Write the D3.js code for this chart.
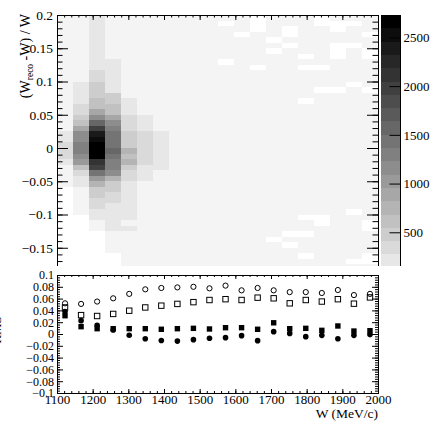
<!DOCTYPE html>
<html>
<head>
<meta charset="utf-8">
<script src="https://cdn.jsdelivr.net/npm/d3@7"></script>
<style>
  body { margin: 0; background: #fff; }
  svg { display: block; }
  svg text { font-family: "Liberation Serif", "Times New Roman", serif; fill: #000; }
</style>
</head>
<body>
<div id="chart"></div>
<script>
// W bins (MeV/c), 45 MeV wide
const wBinCenters = [
  1122.5, 1167.5, 1212.5, 1257.5, 1302.5, 1347.5, 1392.5, 1437.5, 1482.5, 1527.5,
  1572.5, 1617.5, 1662.5, 1707.5, 1752.5, 1797.5, 1842.5, 1887.5, 1932.5, 1977.5,
];
const binWidth = 45;
const xTicks = [1100, 1200, 1300, 1400, 1500, 1600, 1700, 1800, 1900, 2000];

// 2D histogram, counts per column, rows from +0.2 down to -0.2 (48 rows)
const col1122 = [
  60, 60, 60, 60, 60, 60, 60, 60, 60, 60, 60, 60, 60, 60, 60, 60, 60, 60, 60, 60, 60,
  200, 200, 340, 340, 340, 200, 60, 60, 60, 60,
  0, 0, 0, 0, 0, 0, 0, 0, 0, 0, 0, 0, 0, 0, 0, 0, 0,
];
const col1167 = [
  60, 60, 60, 60, 60, 60, 60, 60, 60, 60, 60, 60,
  200, 200, 200, 200, 340, 340, 480, 610, 880, 1150, 1150, 1290, 1290, 1150, 1020, 610,
  340, 200, 200, 60, 60, 60, 60, 60,
  0, 0, 0, 0, 0, 0, 0, 0, 0, 0, 0, 0,
];
const col1212 = [
  200, 200, 200, 200, 200, 200, 200, 200, 200, 200, 340, 340, 480, 480, 480, 610, 610,
  880, 1150, 1560, 1970, 2380, 2520, 2680, 2720, 2680, 2110, 1970, 1430, 1020, 750,
  480, 480, 340, 340, 200, 200, 60, 60,
  0, 0, 0, 0, 0, 0, 0, 0, 0,
];
const col1257 = [
  60, 60, 60, 60, 60, 60, 60, 60, 200, 200, 200, 200, 200, 200,
  480, 480, 610, 610, 880, 1150, 1290, 1430, 1430, 1430, 1560, 1430, 1290, 1290,
  1150, 750, 480, 480, 340, 340, 200, 200, 200, 200, 200, 60, 60, 60, 60,
  0, 0, 0, 0, 0,
];
const col1302 = [
  60, 60, 60, 60, 60, 60, 60, 60, 60, 60, 60, 60, 60, 60, 60,
  200, 200, 200, 340, 340, 340, 480, 480, 480, 750, 610, 750, 480, 340, 340,
  200, 200, 200, 200, 200, 200, 200, 60, 200,
  60, 60, 60, 60, 60, 60, 60, 60, 60,
];
const col1347 = [
  60, 60, 60, 60, 60, 60, 60, 60, 60, 60, 60, 60, 60, 60, 60, 60, 60, 60,
  200, 200, 200, 340, 340, 340, 340, 340, 340, 200, 200, 200,
  60, 60, 60, 60, 60, 60, 60, 60, 60, 60, 60, 60, 60, 60, 60, 60, 60, 60,
];
const col1392 = [
  60, 60, 60, 60, 60, 60, 60, 60, 60, 60, 60, 60, 60, 60, 60, 60, 60, 60, 60, 60, 60,
  200, 200, 200, 200, 200, 200, 200,
  60, 60, 60, 60, 60, 60, 60, 60, 60, 60, 60, 60, 60, 60, 60, 60, 60, 60, 60, 60,
];
const coreColumns = [col1122, col1167, col1212, col1257, col1302, col1347, col1392];
const restCount = 60; // all other W bins: low counts
// [W bin index, row] of empty bins in the low-count area
const emptyCells = [
  [10, 1], [10, 8], [11, 3], [12, 0], [12, 1], [12, 2], [12, 9],
  [13, 4], [13, 6], [13, 40], [14, 2], [14, 3], [14, 5], [14, 39], [14, 41],
  [15, 7], [15, 9], [15, 15], [15, 36], [15, 39], [15, 43],
  [16, 0], [16, 1], [16, 9], [16, 13], [16, 36], [16, 37],
  [17, 1], [17, 2], [17, 5], [17, 6], [17, 7], [17, 13],
  [18, 1], [18, 5], [18, 12], [18, 35], [18, 44],
  [19, 3], [19, 6], [19, 7], [19, 13], [19, 37], [19, 38], [19, 43], [19, 44],
];
const zMax = 2730;
const colorbarTicks = [500, 1000, 1500, 2000, 2500];
const topYTicks = [-0.15, -0.1, -0.05, 0, 0.05, 0.1, 0.15, 0.2];

// lower pad: four series vs W
const openCircles = [
  0.052, 0.051, 0.055, 0.0605, 0.068, 0.0757, 0.078, 0.079, 0.08, 0.0774,
  0.082, 0.074, 0.078, 0.074, 0.071, 0.071, 0.0695, 0.0746, 0.066, 0.068,
];
const openSquares = [
  0.045, 0.032, 0.0305, 0.034, 0.0395, 0.045, 0.048, 0.051, 0.054, 0.0576,
  0.059, 0.0576, 0.0616, 0.0605, 0.052, 0.0576, 0.055, 0.059, 0.0514, 0.062,
];
const filledSquares = [
  0.031, 0.0124, 0.009, 0.009, 0.009, 0.009, 0.008, 0.009, 0.0096, 0.0085,
  0.0107, 0.0107, 0.008, 0.019, 0.009, 0.0096, 0.0062, 0.0136, 0.005, 0.0056,
];
const filledCircles = [
  0.038, 0.0226, 0.0147, 0.0068, -0.002, -0.008, -0.011, -0.012, -0.0096, -0.0073,
  -0.0062, -0.0028, -0.0113, 0.004, 0.001, -0.0045, -0.0023, -0.008, -0.0023, -0.001,
];
const bottomYTicks = [-0.1, -0.08, -0.06, -0.04, -0.02, 0, 0.02, 0.04, 0.06, 0.08, 0.1];

const W = 436, H = 423;
const left = 57, right = 378;
const topPad = { top: 15, bottom: 281 };
const botPad = { top: 275, bottom: 393, start: 266 };

const fmt = d3.format("~g");

const styleAxis = (g, size) => {
  g.attr("font-family", null).attr("font-size", size);
  g.select(".domain").remove();
  g.selectAll("line").attr("stroke", "#000");
  g.selectAll("text").attr("fill", "#000");
};

const svg = d3
  .select("#chart")
  .append("svg")
  .attr("width", W)
  .attr("height", H);

const x = d3.scaleLinear().domain([1100, 2000]).range([left, right]);
const yTop = d3.scaleLinear().domain([-0.2, 0.2]).range([topPad.bottom, topPad.top]);
const yBot = d3.scaleLinear().domain([-0.1, 0.1]).range([botPad.bottom, botPad.top]);
const zY = d3.scaleLinear().domain([0, zMax]).range([topPad.bottom, topPad.top]);

const grays = d3.range(20).map((i) => {
  const v = Math.round(244 * (1 - i / 19));
  return d3.rgb(v, v, v).formatHex();
});
const zColor = d3.scaleQuantize().domain([0, zMax]).range(grays);

// ---- top pad: 2D histogram
const rowEdge = (k) => 0.2 - k / 120;
const emptySet = new Set(emptyCells.map((d) => d[0] + ":" + d[1]));
const cells = [];
wBinCenters.forEach((w, i) => {
  for (let k = 0; k < 48; k++) {
    let count = i < coreColumns.length ? coreColumns[i][k] : restCount;
    if (emptySet.has(i + ":" + k)) count = 0;
    if (count > 0) cells.push({ w, k, count });
  }
});

svg
  .append("g")
  .attr("shape-rendering", "crispEdges")
  .selectAll("rect")
  .data(cells)
  .enter()
  .append("rect")
  .attr("x", (d) => x(d.w - binWidth / 2))
  .attr("width", (d) => x(d.w + binWidth / 2) - x(d.w - binWidth / 2))
  .attr("y", (d) => yTop(rowEdge(d.k)))
  .attr("height", (d) => yTop(rowEdge(d.k + 1)) - yTop(rowEdge(d.k)))
  .attr("fill", (d) => zColor(d.count));

// colour bar
const bands = d3.range(20).map((i) => [(i * zMax) / 20, ((i + 1) * zMax) / 20]);
svg
  .append("g")
  .attr("shape-rendering", "crispEdges")
  .selectAll("rect")
  .data(bands)
  .enter()
  .append("rect")
  .attr("x", 381)
  .attr("width", 19)
  .attr("y", (d) => zY(d[1]))
  .attr("height", (d) => zY(d[0]) - zY(d[1]))
  .attr("fill", (d) => zColor((d[0] + d[1]) / 2));

const zAxis = svg
  .append("g")
  .attr("transform", "translate(400.5,0)")
  .call(
    d3.axisRight(zY)
      .tickValues(colorbarTicks)
      .tickSize(-11)
      .tickPadding(3)
      .tickFormat(d3.format("d"))
  );
styleAxis(zAxis, 13);
svg
  .append("line")
  .attr("x1", 400.5).attr("x2", 400.5)
  .attr("y1", topPad.top).attr("y2", topPad.bottom)
  .attr("stroke", "#000");

// top frame and ticks
const topMinor = d3.range(-20, 21).map((i) => i / 100);
const xMinor = d3.range(1100, 2001, 20);

const addTicks = (axis, pos, ticks, size, labels, fontSize, pad) => {
  const g = svg
    .append("g")
    .attr("transform", pos)
    .call(
      axis
        .tickValues(ticks)
        .tickSize(-size)
        .tickPadding(pad || 3)
        .tickFormat(labels ? fmt : () => "")
    );
  styleAxis(g, fontSize || 13);
  return g;
};

addTicks(d3.axisLeft(yTop), `translate(${left},0)`, topYTicks, 11, true, 13.5, 4);
addTicks(d3.axisLeft(yTop), `translate(${left},0)`, topMinor, 5.5, false);
addTicks(d3.axisRight(yTop), `translate(${right},0)`, topYTicks, 11, false);
addTicks(d3.axisRight(yTop), `translate(${right},0)`, topMinor, 5.5, false);
addTicks(d3.axisTop(x), `translate(0,${topPad.top})`, xTicks, 5, false);
addTicks(d3.axisTop(x), `translate(0,${topPad.top})`, xMinor, 2.5, false);

svg
  .append("rect")
  .attr("x", left + 0.5)
  .attr("y", topPad.top + 0.5)
  .attr("width", right - left)
  .attr("height", topPad.bottom - topPad.top)
  .attr("fill", "none")
  .attr("stroke", "#000");

// y title of top pad
const yTitle = svg
  .append("text")
  .attr("transform", `translate(30,${topPad.top - 1}) rotate(-90)`)
  .attr("text-anchor", "end")
  .attr("font-size", 14);
yTitle.append("tspan").text("(W");
yTitle.append("tspan").attr("font-size", 9.5).attr("dy", 3).text("reco");
yTitle.append("tspan").attr("dy", -3).text(" -W) / W");

// ---- bottom pad
svg
  .append("rect")
  .attr("x", 0)
  .attr("y", botPad.start)
  .attr("width", W)
  .attr("height", H - botPad.start)
  .attr("fill", "#fff");

const botMinor = d3.range(-25, 26).map((i) => i * 0.004);
addTicks(d3.axisLeft(yBot), `translate(${left},0)`, bottomYTicks, 6, true, 12, 3);
addTicks(d3.axisLeft(yBot), `translate(${left},0)`, botMinor, 3, false);
addTicks(d3.axisRight(yBot), `translate(${right},0)`, bottomYTicks, 6, false);
addTicks(d3.axisRight(yBot), `translate(${right},0)`, botMinor, 3, false);
addTicks(d3.axisBottom(x), `translate(0,${botPad.bottom})`, xTicks, 4, true, 13, 2);
addTicks(d3.axisBottom(x), `translate(0,${botPad.bottom})`, xMinor, 2, false);
addTicks(d3.axisTop(x), `translate(0,${botPad.top})`, xTicks, 4, false);
addTicks(d3.axisTop(x), `translate(0,${botPad.top})`, xMinor, 2, false);

svg
  .append("rect")
  .attr("x", left + 0.5)
  .attr("y", botPad.top + 0.5)
  .attr("width", right - left)
  .attr("height", botPad.bottom - botPad.top)
  .attr("fill", "none")
  .attr("stroke", "#000");

svg
  .append("text")
  .attr("x", right)
  .attr("y", 418)
  .attr("text-anchor", "end")
  .attr("font-size", 13.5)
  .text("W (MeV/c)");

// clipped y title of the lower pad
svg
  .append("text")
  .attr("transform", "translate(1,330) rotate(-90)")
  .attr("text-anchor", "middle")
  .attr("font-size", 13)
  .text("RMS");

const pts = svg.append("g");
const series = [
  { data: openCircles, shape: "circle", filled: false },
  { data: openSquares, shape: "square", filled: false },
  { data: filledSquares, shape: "square", filled: true },
  { data: filledCircles, shape: "circle", filled: true },
];
series.forEach((s) => {
  const sel = pts
    .append("g")
    .selectAll(".m")
    .data(s.data.map((v, i) => ({ w: wBinCenters[i], v })))
    .enter();
  const marks =
    s.shape === "circle"
      ? sel
          .append("circle")
          .attr("cx", (d) => x(d.w))
          .attr("cy", (d) => yBot(d.v))
          .attr("r", s.filled ? 2.8 : 2.6)
      : sel
          .append("rect")
          .attr("x", (d) => x(d.w) - 2.7)
          .attr("y", (d) => yBot(d.v) - 2.7)
          .attr("width", 5.4)
          .attr("height", 5.4);
  marks
    .attr("fill", s.filled ? "#000" : "none")
    .attr("stroke", s.filled ? "none" : "#000")
    .attr("stroke-width", 1);
});
</script>
</body>
</html>
